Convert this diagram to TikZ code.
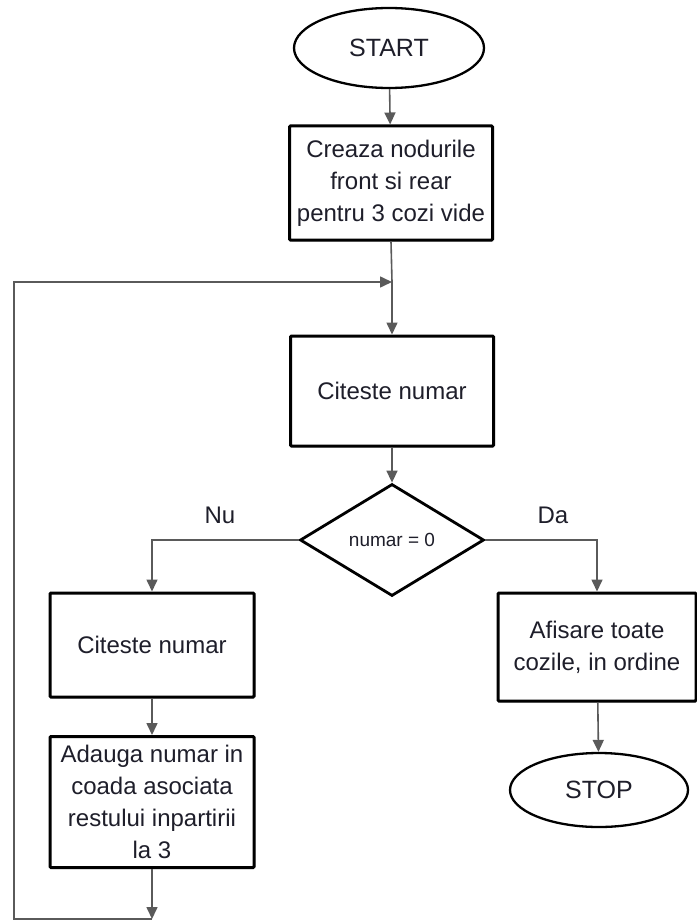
\documentclass[tikz,border=0pt]{standalone}
\usepackage{fontspec}
\setmainfont{Liberation Sans}
\usetikzlibrary{shapes.geometric,arrows.meta,shadows}
\definecolor{linegray}{HTML}{5A5A5A}
\definecolor{inkgray}{HTML}{1E1E2A}
\tikzset{
  every node/.style={text=inkgray},
  boxnode/.style={draw=black, line width=3pt, fill=white, rectangle,
    rounded corners=1pt, inner sep=0pt, align=center,
    font=\fontsize{24}{32}\selectfont,
    drop shadow={shadow xshift=1.5pt, shadow yshift=-1.5pt, opacity=0.25}},
  termnode/.style={draw=black, line width=2.3pt, fill=white, ellipse,
    inner sep=0pt, font=\fontsize{25}{28}\selectfont},
  decnode/.style={draw=black, line width=2.8pt, fill=white, diamond,
    inner sep=0pt, aspect=1.64, font=\fontsize{19}{22}\selectfont},
  lbl/.style={font=\fontsize{24}{26}\selectfont},
  conn/.style={draw=linegray, line width=1.6pt,
    -{Triangle[length=12pt,width=11pt]}, color=linegray},
  plain/.style={draw=linegray, line width=1.6pt}
}
\begin{document}
\begin{tikzpicture}[x=1pt,y=-1pt]
\useasboundingbox (0,0) rectangle (696,923);

% terminals, steps and the decision
\node[termnode, minimum width=190pt, minimum height=80pt] (start) at (389,48) {START};
\node[boxnode, minimum width=203pt, minimum height=114pt] (b1) at (391,183)
  {Creaza nodurile\\front si rear\\pentru 3 cozi vide};
\node[boxnode, minimum width=203pt, minimum height=110pt] (b2) at (392,391) {Citeste numar};
\node[decnode, minimum width=184pt, minimum height=112pt] (d) at (392,540) {numar = 0};
\node[boxnode, minimum width=204pt, minimum height=104pt] (b3) at (152,645) {Citeste numar};
\node[boxnode, minimum width=204pt, minimum height=131pt] (b4) at (152,802)
  {Adauga numar in\\coada asociata\\restului inpartirii\\la 3};
\node[boxnode, minimum width=198pt, minimum height=108pt] (b5) at (597,647)
  {Afisare toate\\cozile, in ordine};
\node[termnode, minimum width=178pt, minimum height=74pt] (stop) at (599,790) {STOP};

% branch labels
\node[lbl] (nu) at (220,515) {Nu};
\node[lbl] (da) at (553,515) {Da};

% loop corners
\coordinate (j) at (392,282);
\coordinate (c1) at (152,919);
\coordinate (c2) at (14,919);
\coordinate (c3) at (14,282);

% connectors
\draw[conn] (start) -- (b1);
\draw[plain] (b1.south) -- (j);
\draw[conn] (j) -- (b2.north);
\draw[conn] (b2) -- (d);
\draw[conn] (d.west) -| (b3.north);
\draw[conn] (d.east) -| (b5.north);
\draw[conn] (b3) -- (b4);
\draw[conn] (b5) -- (stop);
\draw[conn] (b4.south) -- (c1);
\draw[conn] (c1) -- (c2) -- (c3) -- (j);
\end{tikzpicture}
\end{document}
